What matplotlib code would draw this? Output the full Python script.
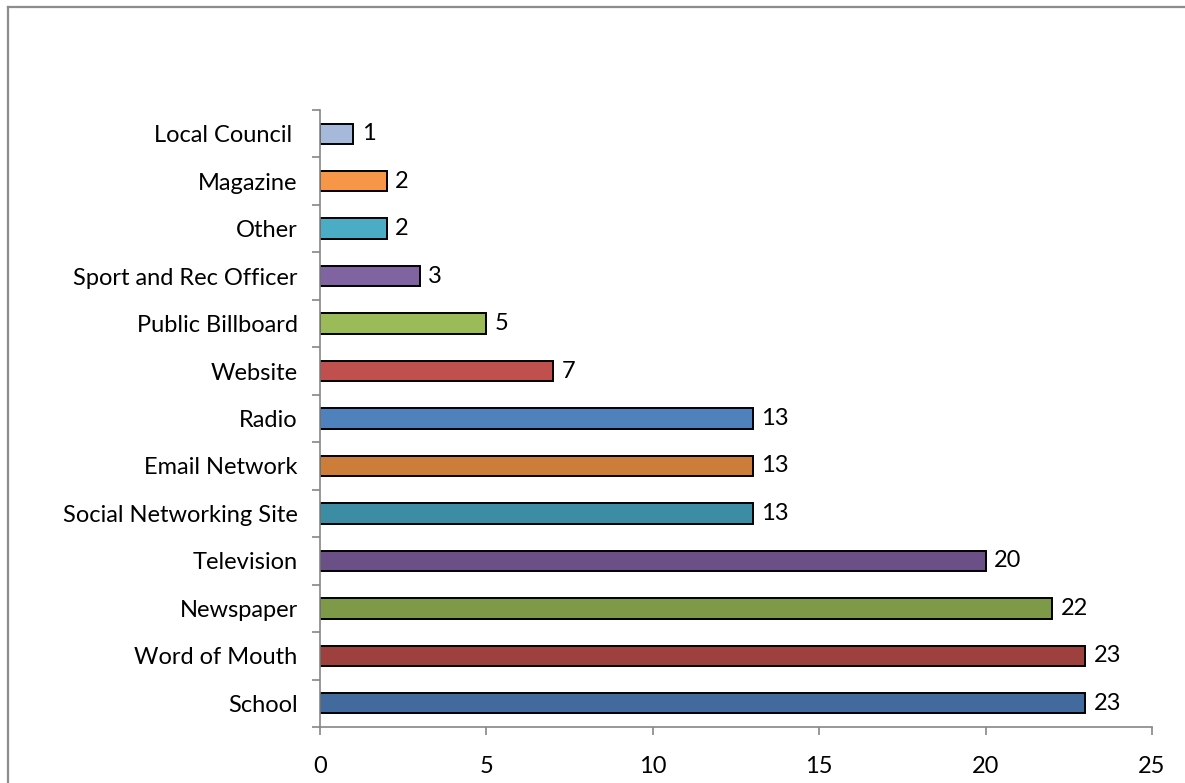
import matplotlib.pyplot as plt
import numpy as np
from matplotlib.lines import Line2D

plt.rcParams['font.family'] = ['Lato', 'DejaVu Sans']

sources = ['School', 'Word of Mouth', 'Newspaper', 'Television',
           'Social Networking Site', 'Email Network', 'Radio', 'Website',
           'Public Billboard', 'Sport and Rec Officer', 'Other', 'Magazine',
           'Local Council ']
counts = [23, 23, 22, 20, 13, 13, 13, 7, 5, 3, 2, 2, 1]
bar_colors = ['#426A9C', '#9E403D', '#7E9A48', '#6A5087', '#3C8DA3', '#CD7D3A',
              '#4F81BD', '#C0504D', '#9BBB59', '#8064A2', '#4BACC6', '#F79646',
              '#A7B9DA']
x_ticks = [0, 5, 10, 15, 20, 25]

fig = plt.figure(figsize=(11.85, 7.83), dpi=100)
ax = fig.add_axes([0.270, 0.0715, 0.7022, 0.788])

# grey frame round the chart area: only its top and left edges are on the canvas
frame = '#8c8c8c'
fig.add_artist(Line2D([0.0068, 0.0068], [0.0, 0.9905], transform=fig.transFigure,
                      color=frame, linewidth=1.6))
fig.add_artist(Line2D([0.0068, 1.0], [0.9905, 0.9905], transform=fig.transFigure,
                      color=frame, linewidth=1.6))

pos = np.arange(len(sources))
ax.barh(pos, counts, height=0.43, color=bar_colors, edgecolor='black', linewidth=1.4)

for p, v in zip(pos, counts):
    ax.text(v + 0.25, p, str(v), va='center', ha='left', fontsize=17)

ax.set_xlim(0, 25)
ax.set_ylim(-0.5, len(sources) - 0.5)
ax.set_xticks(x_ticks)
ax.set_yticks(pos)
ax.set_yticklabels(sources)
ax.set_yticks(np.arange(-0.5, len(sources)), minor=True)

gray = '#868686'
for s in ['top', 'right']:
    ax.spines[s].set_visible(False)
for s in ['left', 'bottom']:
    ax.spines[s].set_color(gray)
    ax.spines[s].set_linewidth(1.2)

ax.tick_params(axis='y', which='major', length=0, pad=16, labelsize=17)
ax.tick_params(axis='y', which='minor', length=6, width=1.2, color=gray)
ax.tick_params(axis='x', length=6, width=1.2, color=gray, pad=15, labelsize=17)

fig.savefig('out.png', dpi=100)
